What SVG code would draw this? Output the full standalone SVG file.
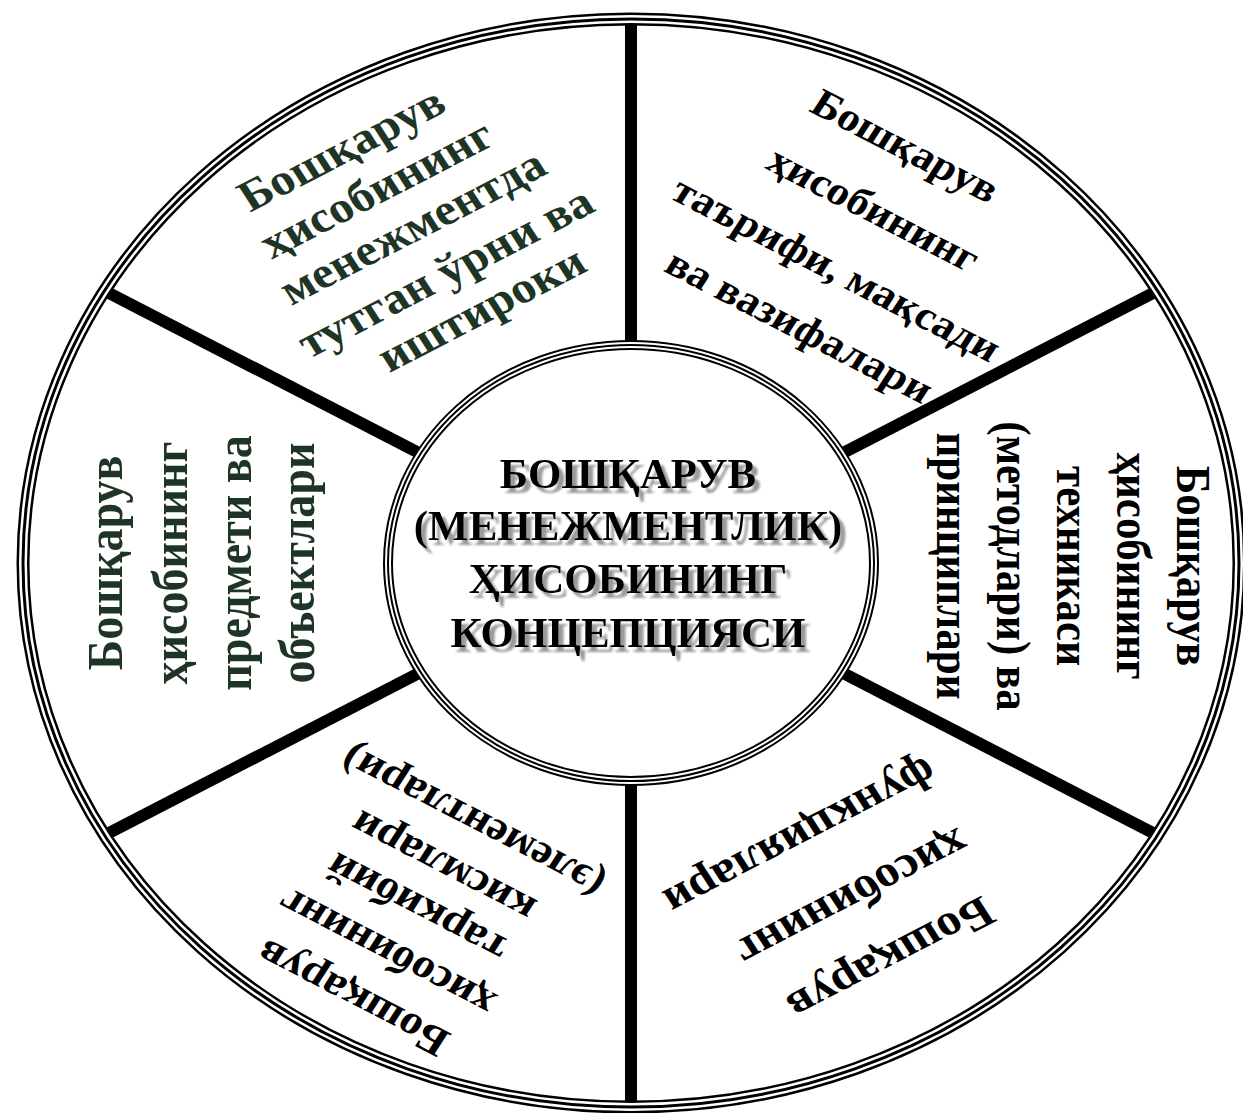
<svg xmlns="http://www.w3.org/2000/svg" width="1243" height="1113" viewBox="0 0 1243 1113">
<defs>
<style>
.t{font-family:"Liberation Serif","Times New Roman",serif;font-weight:bold;text-anchor:middle}
.g{fill:#1e3526}
.k{fill:#000}
.sp{stroke:#000;stroke-width:12;fill:none}
.c{font-family:"Liberation Serif","Times New Roman",serif;font-weight:bold;font-size:43px;text-anchor:middle;fill:#000}
</style>
<filter id="shadow" x="-10%" y="-20%" width="125%" height="150%">
<feOffset in="SourceAlpha" dx="5" dy="5" result="o"/>
<feGaussianBlur in="o" stdDeviation="1.3" result="b"/>
<feFlood flood-color="#9a9a9a"/>
<feComposite in2="b" operator="in" result="s"/>
<feMerge><feMergeNode in="s"/><feMergeNode in="SourceGraphic"/></feMerge>
</filter>
</defs>
<rect width="1243" height="1113" fill="#fff"/>
<g id="connectors">
<line class="sp" x1="631" y1="19" x2="631" y2="345"/>
<line class="sp" x1="1157" y1="291" x2="841" y2="454"/>
<line class="sp" x1="1157" y1="835" x2="841" y2="672"/>
<line class="sp" x1="631" y1="1107" x2="631" y2="781"/>
<line class="sp" x1="105" y1="835" x2="421" y2="672"/>
<line class="sp" x1="105" y1="291" x2="421" y2="454"/>
</g>
<g id="frame">
<ellipse cx="631" cy="563" rx="608" ry="544" fill="none" stroke="#000" stroke-width="13"/>
<ellipse cx="631" cy="563" rx="608" ry="544" fill="none" stroke="#fff" stroke-width="8"/>
<ellipse cx="631" cy="563" rx="608" ry="544" fill="none" stroke="#000" stroke-width="3"/>
</g>
<g id="center">
<ellipse cx="631" cy="563" rx="243" ry="218" fill="#fff" stroke="#000" stroke-width="10"/>
<ellipse cx="631" cy="563" rx="243" ry="218" fill="none" stroke="#fff" stroke-width="6"/>
<ellipse cx="631" cy="563" rx="243" ry="218" fill="none" stroke="#000" stroke-width="2"/>
<g filter="url(#shadow)">
<text class="c" x="628" y="488">БОШҚАРУВ</text>
<text class="c" x="628" y="540">(МЕНЕЖМЕНТЛИК)</text>
<text class="c" x="628" y="593">ҲИСОБИНИНГ</text>
<text class="c" x="628" y="647">КОНЦЕПЦИЯСИ</text>
</g>
</g>
<g id="sector-upper-left" class="t g" font-size="44">
<text transform="translate(342,150) scale(1.12,1) rotate(-30)" dy="0.3em">Бошқарув</text>
<text transform="translate(377,190) scale(1.12,1) rotate(-30)" dy="0.3em">ҳисобининг</text>
<text transform="translate(413,228) scale(1.12,1) rotate(-30)" dy="0.3em">менежментда</text>
<text transform="translate(446,273) scale(1.12,1) rotate(-30)" dy="0.3em">тутган ўрни ва</text>
<text transform="translate(482,310) scale(1.12,1) rotate(-30)" dy="0.3em">иштироки</text>
</g>
<g id="sector-upper-right" class="t k" font-size="40">
<text transform="translate(905,147) scale(1.12,1) rotate(30)" dy="0.3em">Бошқарув</text>
<text transform="translate(873,210) scale(1.12,1) rotate(30)" dy="0.3em">ҳисобининг</text>
<text transform="translate(836,270) scale(1.12,1) rotate(30)" dy="0.3em">таърифи, мақсади</text>
<text transform="translate(799,327) scale(1.12,1) rotate(30)" dy="0.3em">ва вазифалари</text>
</g>
<g id="sector-right" class="t k" font-size="43">
<text transform="translate(1177,566) scale(1.12,1) rotate(90)">Бошқарув</text>
<text transform="translate(1117,566) scale(1.12,1) rotate(90)">ҳисобининг</text>
<text transform="translate(1057,566) scale(1.12,1) rotate(90)">техникаси</text>
<text transform="translate(997,566) scale(1.12,1) rotate(90)">(методлари) ва</text>
<text transform="translate(937,566) scale(1.12,1) rotate(90)">принциплари</text>
</g>
<g id="sector-lower-right" class="t k" font-size="44">
<text transform="translate(890,958) scale(1.12,1) rotate(150)" dy="0.3em">Бошқарув</text>
<text transform="translate(852,897) scale(1.12,1) rotate(150)" dy="0.3em">ҳисобининг</text>
<text transform="translate(800,836) scale(1.12,1) rotate(150)" dy="0.3em">функциялари</text>
</g>
<g id="sector-lower-left" class="t k" font-size="41">
<text transform="translate(353,997) scale(1.12,1) rotate(210)" dy="0.3em">Бошқарув</text>
<text transform="translate(387,952) scale(1.12,1) rotate(210)" dy="0.3em">ҳисобининг</text>
<text transform="translate(417,907) scale(1.12,1) rotate(210)" dy="0.3em">таркибий</text>
<text transform="translate(443,866) scale(1.12,1) rotate(210)" dy="0.3em">кисмлари</text>
<text transform="translate(473,821) scale(1.12,1) rotate(210)" dy="0.3em">(элементлари)</text>
</g>
<g id="sector-left" class="t g" font-size="46">
<text transform="translate(122,563) scale(1.12,1) rotate(-90)">Бошқарув</text>
<text transform="translate(187,563) scale(1.12,1) rotate(-90)">ҳисобининг</text>
<text transform="translate(251,563) scale(1.12,1) rotate(-90)">предмети ва</text>
<text transform="translate(314,563) scale(1.12,1) rotate(-90)">объектлари</text>
</g>
</svg>
